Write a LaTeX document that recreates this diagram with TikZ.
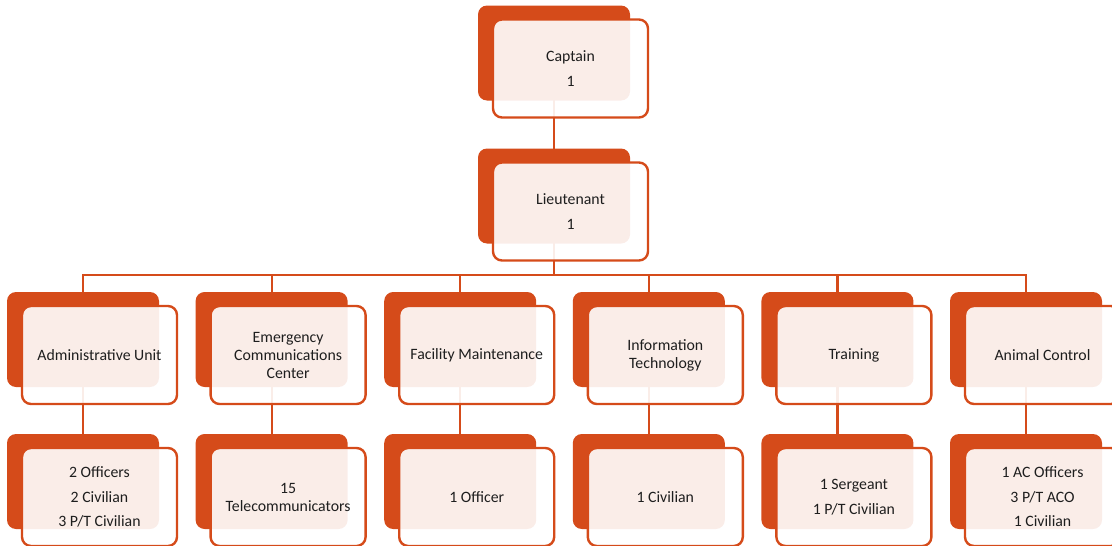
\documentclass[tikz,border=0pt]{standalone}
\usepackage{fontspec}
\setmainfont{Carlito}
\usetikzlibrary{calc}
\pgfdeclarelayer{background}
\pgfsetlayers{background,main}
\definecolor{accent}{HTML}{D54B1A}
\definecolor{txt}{HTML}{1E1E1E}
\tikzset{
  backbox/.style={rectangle, rounded corners=9pt, fill=accent, draw=none,
    minimum width=152pt, minimum height=95pt, inner sep=0pt},
  frontbox/.style={rectangle, rounded corners=9pt, fill=white, fill opacity=0.9,
    text opacity=1, draw=accent, draw opacity=1, line width=2.4pt,
    minimum width=155pt, minimum height=98pt, inner sep=0pt, align=center,
    text=txt, font=\fontsize{15.8}{18}\selectfont},
  conn/.style={draw=accent, line width=2.2pt}
}
\newcommand\obox[4]{%
  \node[backbox] (#1b) at (#2,#3) {};
  \node[frontbox] (#1) at ($(#1b)+(16.5,15.5)$) {#4};
}
\newcommand\psep{\\[6.5pt]}
\begin{document}
\begin{tikzpicture}[x=1pt,y=-1pt]
\useasboundingbox (0,0) rectangle (1112,546);
\obox{cap}{554}{53}{Captain\psep 1}
\obox{lt}{554}{196}{Lieutenant\psep 1}
\obox{adm}{83}{339.5}{Administrative Unit}
\obox{ecc}{271.6}{339.5}{Emergency\\Communications\\Center}
\obox{fac}{460.2}{339.5}{Facility Maintenance}
\obox{it}{648.8}{339.5}{Information\\Technology}
\obox{trn}{837.4}{339.5}{Training}
\obox{ani}{1026}{339.5}{Animal Control}
\obox{admx}{83}{481.5}{2 Officers\psep 2 Civilian\psep 3 P/T Civilian}
\obox{eccx}{271.6}{481.5}{15\\Telecommunicators}
\obox{facx}{460.2}{481.5}{1 Officer}
\obox{itx}{648.8}{481.5}{1 Civilian}
\obox{trnx}{837.4}{481.5}{1 Sergeant\psep 1 P/T Civilian}
\obox{anix}{1026}{481.5}{1 AC Officers\psep 3 P/T ACO\psep 1 Civilian}
\coordinate (bus) at (554,275);
\begin{pgfonlayer}{background}
  \draw[conn] (capb.center) -- (ltb.center);
  \draw[conn] (ltb.center) -- (bus);
  \foreach \c in {adm,ecc,fac,it,trn,ani}{
    \draw[conn] (bus) -| (\c b.center);
    \draw[conn] (\c b.center) -- (\c xb.center);
  }
\end{pgfonlayer}
\end{tikzpicture}
\end{document}
